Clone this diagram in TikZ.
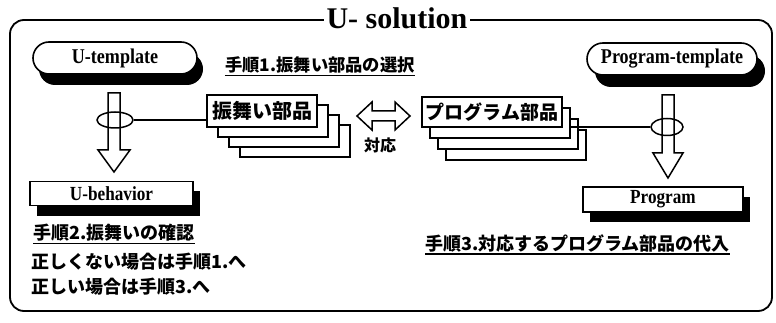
\documentclass[tikz,border=0pt]{standalone}
\usepackage{fontspec}
\setmainfont{Liberation Serif}
\newfontfamily\cond{Liberation Serif}[FakeStretch=0.86]
\newfontfamily\jp{Noto Sans CJK JP}
\usetikzlibrary{calc,shadows,shapes.misc,shapes.geometric}
\tikzset{
  frame/.style={line width=1.8pt, rounded corners=14pt},
  pill/.style={rounded rectangle, draw, fill=white, line width=1.6pt, inner sep=0pt,
     font=\cond\bfseries\fontsize{21}{22}\selectfont},
  sbox/.style={rectangle, draw, fill=white, line width=1.6pt, inner sep=0pt,
     font=\cond\bfseries\fontsize{20}{22}\selectfont},
  stackbox/.style={rectangle, draw, fill=white, line width=1.5pt, inner sep=0pt},
  jlabel/.style={inner sep=0pt, font=\jp\bfseries\fontsize{18}{21}\selectfont},
  hollow/.style={draw, fill=none, line width=1.5pt, line join=miter},
}
\begin{document}
\begin{tikzpicture}[x=1pt,y=-1pt]
\useasboundingbox (0,0) rectangle (776,323);
% frame
\draw[frame] (10,20) rectangle (772,311);
\node[fill=white, inner xsep=3pt, inner ysep=1pt, anchor=base,
  font=\bfseries\fontsize{30}{32}\selectfont] (title) at (397,29) {U- solution};

% templates
\node[pill, minimum width=164pt, minimum height=32pt,
  drop shadow={shadow xshift=6pt, shadow yshift=-11pt, opacity=1, fill=black}]
  (ut) at (115,58) {U-template};
\node[pill, minimum width=170pt, minimum height=32pt,
  drop shadow={shadow xshift=8pt, shadow yshift=-12pt, opacity=1, fill=black}]
  (pt) at (672,59) {Program-template};

% results
\node[sbox, minimum width=163pt, minimum height=24pt,
  drop shadow={shadow xshift=7pt, shadow yshift=-10pt, opacity=1, fill=black}]
  (ub) at (111.5,193.5) {U-behavior};
\node[sbox, minimum width=160pt, minimum height=25pt,
  drop shadow={shadow xshift=7pt, shadow yshift=-10pt, opacity=1, fill=black}]
  (pg) at (663,199.5) {Program};

% left stack
\node[stackbox, minimum width=110pt, minimum height=32pt] (lb3) at (262+33,111+30) {};
\node[stackbox, minimum width=110pt, minimum height=32pt] (lb2) at (262+22,111+20) {};
\node[stackbox, minimum width=110pt, minimum height=32pt] (lb1) at (262+11,111+10) {};
\node[stackbox, minimum width=110pt, minimum height=32pt,
  font=\jp\bfseries\fontsize{20}{22}\selectfont] (lf) at (262,111) {振舞い部品};

% right stack
\node[stackbox, minimum width=140pt, minimum height=30pt] (rb3) at (492+24,112+33) {};
\node[stackbox, minimum width=140pt, minimum height=30pt] (rb2) at (492+16,112+22) {};
\node[stackbox, minimum width=140pt, minimum height=30pt] (rb1) at (492+8,112+11) {};
\node[stackbox, minimum width=140pt, minimum height=30pt,
  font=\jp\bfseries\fontsize{19}{22}\selectfont] (rf) at (492,112) {プログラム部品};

% double arrow
\coordinate (da) at (383.5,116);
\draw[hollow] ($(da)+(-26.5,0)$) -- ++(15,-14) -- ++(0,9) -- ++(23,0) -- ++(0,-9)
  -- ++(15,14) -- ++(-15,14) -- ++(0,-9) -- ++(-23,0) -- ++(0,9) -- cycle;
\node[inner sep=0pt, font=\jp\bfseries\fontsize{16}{18}\selectfont] (corr) at (380,145) {対応};

% left hollow arrow and ellipse
\coordinate (lat) at (114,93);
\coordinate (latip) at (114,172);
\draw[hollow] ($(lat)+(-6,0)$) -- ($(lat)+(6,0)$) -- ($(latip)+(6,-22)$) -- ($(latip)+(16,-22)$)
  -- (latip) -- ($(latip)+(-16,-22)$) -- ($(latip)+(-6,-22)$) -- cycle;
\node[draw, ellipse, line width=1.5pt, minimum width=36pt, minimum height=16pt, inner sep=0pt] (le) at (115,120) {};
\draw[line width=1.3pt] (le.east) -- (le.east -| lf.west);

% right hollow arrow and ellipse
\coordinate (rat) at (668,95);
\coordinate (ratip) at (668,178);
\draw[hollow] ($(rat)+(-6,0)$) -- ($(rat)+(6,0)$) -- ($(ratip)+(6,-25)$) -- ($(ratip)+(15,-25)$)
  -- (ratip) -- ($(ratip)+(-15,-25)$) -- ($(ratip)+(-6,-25)$) -- cycle;
\node[draw, ellipse, line width=1.5pt, minimum width=32pt, minimum height=17pt, inner sep=0pt] (re) at (667,127) {};
\draw[line width=1.3pt] (re.west) -- (re.west -| rb1.east);

% labels
\node[jlabel, font=\jp\bfseries\fontsize{17.3}{20}\selectfont] (s1) at (320,65) {手順1.振舞い部品の選択};
\draw[line width=1.3pt] ([yshift=-2pt]s1.south west) -- ([yshift=-2pt]s1.south east);
\node[jlabel, anchor=west] (s2) at (33,233) {手順2.振舞いの確認};
\draw[line width=1.3pt] ([yshift=-2pt]s2.south west) -- ([yshift=-2pt]s2.south east);
\node[jlabel, anchor=west] (c1) at (31,262) {正しくない場合は手順1.へ};
\node[jlabel, anchor=west] (c2) at (31,287) {正しい場合は手順3.へ};
\node[jlabel, anchor=west] (s3) at (425,243) {手順3.対応するプログラム部品の代入};
\draw[line width=1.3pt] ([yshift=-2pt]s3.south west) -- ([yshift=-2pt]s3.south east);
\end{tikzpicture}
\end{document}
